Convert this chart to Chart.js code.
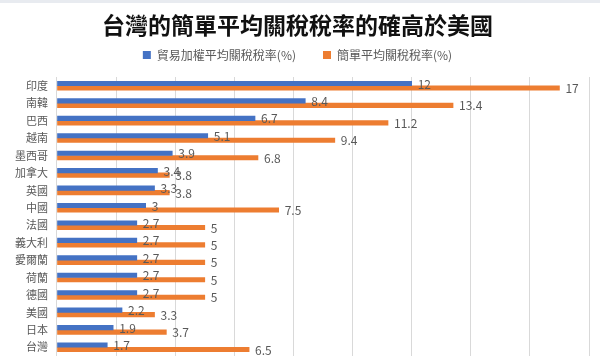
<!DOCTYPE html>
<html>
<head>
<meta charset="utf-8">
<script src="https://cdn.jsdelivr.net/npm/chart.js@4.4.1/dist/chart.umd.min.js"></script>
<style>
  html, body { margin: 0; padding: 0; background: #ffffff; }
  #wrap { width: 600px; height: 364px; position: relative; }
</style>
</head>
<body>
<div id="wrap"><canvas id="c" width="600" height="364"></canvas></div>
<script>
const categories = ["印度", "南韓", "巴西", "越南", "墨西哥", "加拿大", "英國", "中國", "法國", "義大利", "愛爾蘭", "荷蘭", "德國", "美國", "日本", "台灣"];
const tradeWeighted = [12, 8.4, 6.7, 5.1, 3.9, 3.4, 3.3, 3, 2.7, 2.7, 2.7, 2.7, 2.7, 2.2, 1.9, 1.7];
const simpleAverage = [17, 13.4, 11.2, 9.4, 6.8, 3.8, 3.8, 7.5, 5, 5, 5, 5, 5, 3.3, 3.7, 6.5];
const seriesNames = ["貿易加權平均關稅稅率(%)", "簡單平均關稅稅率(%)"];
const chartTitle = "台灣的簡單平均關稅稅率的確高於美國";

const FONT = "'Noto Sans CJK TC', 'Noto Sans', sans-serif";

const bgPlugin = {
  id: 'bg',
  beforeDraw(chart) {
    const ctx = chart.ctx;
    ctx.save();
    ctx.fillStyle = '#ffffff';
    ctx.fillRect(0, 0, chart.width, chart.height);
    ctx.fillStyle = '#e8ebf0';
    ctx.fillRect(0, 0, chart.width, 3);
    ctx.restore();
  }
};

const legendMargin = {
  id: 'legendMargin',
  beforeInit(chart) {
    const lg = chart.legend;
    if (!lg) return;
    const origFit = lg.fit;
    lg.fit = function () {
      origFit.call(this);
      this.height += 6;
    };
  }
};

const valueLabels = {
  id: 'valueLabels',
  afterDatasetsDraw(chart) {
    const ctx = chart.ctx;
    ctx.save();
    ctx.font = "12px " + FONT;
    ctx.fillStyle = '#595959';
    ctx.textBaseline = 'middle';
    ctx.textAlign = 'left';
    chart.data.datasets.forEach((ds, i) => {
      const meta = chart.getDatasetMeta(i);
      meta.data.forEach((bar, j) => {
        ctx.fillText(String(ds.data[j]), bar.x + 6, bar.y + 0.5);
      });
    });
    ctx.restore();
  }
};

new Chart(document.getElementById('c'), {
  type: 'bar',
  data: {
    labels: categories,
    datasets: [
      { label: seriesNames[0], data: tradeWeighted, backgroundColor: '#4472C4', barThickness: 4.5 },
      { label: seriesNames[1], data: simpleAverage, backgroundColor: '#ED7D31', barThickness: 4.5 }
    ]
  },
  options: {
    indexAxis: 'y',
    responsive: false,
    animation: false,
    layout: { padding: { left: 6, right: 11, top: 0, bottom: 8 } },
    plugins: {
      title: {
        display: true,
        text: chartTitle,
        color: '#111111',
        font: { family: FONT, size: 23, weight: 'bold', lineHeight: 1 },
        padding: { top: 14, bottom: -15 }
      },
      legend: {
        display: true,
        position: 'top',
        labels: {
          color: '#595959',
          font: { family: FONT, size: 12 },
          boxWidth: 8,
          boxHeight: 8,
          padding: 27
        }
      },
      tooltip: { enabled: false }
    },
    scales: {
      x: {
        min: 0,
        max: 18,
        ticks: { display: false, stepSize: 2 },
        grid: { color: '#d9d9d9', drawTicks: false, lineWidth: 1 },
        border: { display: false }
      },
      y: {
        ticks: { color: '#595959', font: { family: FONT, size: 11 }, padding: 9, autoSkip: false },
        grid: { display: false, drawTicks: false },
        border: { display: false },
        afterFit(scale) { scale.paddingTop = 0; scale.paddingBottom = 0; }
      }
    }
  },
  plugins: [bgPlugin, legendMargin, valueLabels]
});
</script>
</body>
</html>
